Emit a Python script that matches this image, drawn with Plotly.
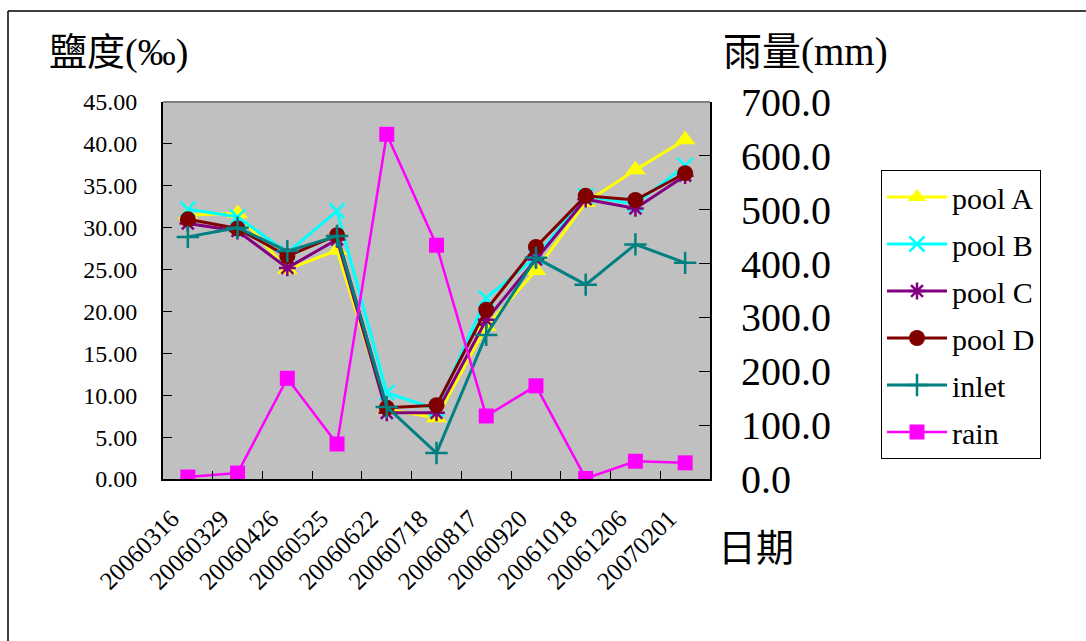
import plotly.graph_objects as go

dates = ["20060316", "20060329", "20060426", "20060525", "20060622", "20060718",
         "20060817", "20060920", "20061018", "20061206", "20070201"]
pool_a = [31.5, 31.7, 25.0, 27.3, 8.3, 7.3, 18.2, 24.9, 33.0, 36.9, 40.5]
pool_b = [32.2, 31.3, 27.0, 32.0, 10.3, 8.3, 21.6, 26.5, 33.8, 32.8, 37.4]
pool_c = [30.5, 29.6, 25.2, 28.6, 7.9, 7.9, 19.0, 26.2, 33.4, 32.3, 36.2]
pool_d = [31.0, 29.9, 26.6, 29.1, 8.5, 8.8, 20.2, 27.7, 33.8, 33.3, 36.5]
inlet = [28.9, 30.0, 27.2, 29.0, 8.6, 3.1, 17.2, 26.4, 23.2, 28.0, 25.8]
rain = [3.7, 11.0, 187.0, 65.0, 640.0, 434.0, 117.0, 173.0, 1.0, 33.0, 30.0]

sal_ticks = [0, 5, 10, 15, 20, 25, 30, 35, 40, 45]
rain_ticks = [0, 100, 200, 300, 400, 500, 600, 700]

SERIF = "Liberation Serif"
CJK = "Liberation Serif, Noto Sans CJK TC"

fig = go.Figure()

series = [
    ("pool A", pool_a, "#FFFF00", dict(symbol="triangle-up", size=18)),
    ("pool B", pool_b, "#00FFFF", dict(symbol="x-thin", size=15, line=dict(width=2.5, color="#00FFFF"))),
    ("pool C", pool_c, "#800080", dict(symbol="asterisk", size=14, line=dict(width=2.5, color="#800080"))),
    ("pool D", pool_d, "#800000", dict(symbol="circle", size=16)),
    ("inlet", inlet, "#008080", dict(symbol="cross-thin", size=16, line=dict(width=2.5, color="#008080"))),
]
for name, vals, color, mk in series:
    mk = dict(mk)
    mk["color"] = color
    fig.add_trace(go.Scatter(
        x=dates, y=vals, name=name, mode="lines+markers",
        line=dict(color=color, width=3), marker=mk,
        legendgroup=name, yaxis="y",
    ))

fig.add_trace(go.Scatter(
    x=dates, y=rain, name="rain", mode="lines+markers",
    line=dict(color="#FF00FF", width=2.5),
    marker=dict(symbol="square", size=15, color="#FF00FF"),
    legendgroup="rain", yaxis="y2",
))

L, R, T, B = 163, 710, 102, 479
W, H = 1086, 641
pw, ph = R - L, B - T

def px(x):
    return (x - L) / pw

def py(y):
    return (B - y) / ph

fig.update_layout(
    width=W, height=H,
    margin=dict(l=L, r=W - R, t=T, b=H - B, pad=0),
    paper_bgcolor="white",
    plot_bgcolor="#C0C0C0",
    showlegend=True,
    xaxis=dict(
        type="category", tickmode="array", tickvals=dates, ticktext=dates,
        tickson="boundaries", ticks="inside", ticklen=8, tickcolor="black", tickwidth=1,
        showline=True, linecolor="black", linewidth=2,
        showgrid=False, zeroline=False,
        tickangle=-45, tickfont=dict(family=SERIF, size=25, color="black"),
        ticklabelstandoff=13, ticklabelshift=-16,
        range=[-0.5, 10.5],
    ),
    yaxis=dict(
        range=[0, 45], tickmode="array", tickvals=sal_ticks,
        ticktext=[f"{v:.2f}" for v in sal_ticks],
        ticks="inside", ticklen=9, tickcolor="black", tickwidth=1,
        showline=True, linecolor="black", linewidth=2,
        showgrid=False, zeroline=False,
        tickfont=dict(family=SERIF, size=24, color="black"),
        ticklabelstandoff=19,
    ),
    yaxis2=dict(
        range=[0, 700], overlaying="y", side="right",
        tickmode="array", tickvals=rain_ticks,
        ticktext=[f"{v:.1f}" for v in rain_ticks],
        ticks="inside", ticklen=11, tickcolor="black", tickwidth=1,
        showline=True, linecolor="black", linewidth=2,
        showgrid=False, zeroline=False,
        tickfont=dict(family=SERIF, size=40, color="black"),
        ticklabelstandoff=21,
    ),
    legend=dict(
        x=px(881), y=py(170), xanchor="left", yanchor="top",
        bordercolor="black", borderwidth=1, bgcolor="white",
        font=dict(family=SERIF, size=30, color="black"),
        itemwidth=60, tracegroupgap=5, traceorder="grouped",
    ),
    annotations=[
        dict(text="鹽度(‰)", x=px(47), y=py(52), xref="paper", yref="paper",
             xanchor="left", yanchor="middle", showarrow=False,
             font=dict(family=CJK, size=38, color="black")),
        dict(text="雨量(mm)", x=px(721), y=py(52), xref="paper", yref="paper",
             xanchor="left", yanchor="middle", showarrow=False,
             font=dict(family=CJK, size=39, color="black")),
        dict(text="日期", x=px(716), y=py(548), xref="paper", yref="paper",
             xanchor="left", yanchor="middle", showarrow=False,
             font=dict(family=CJK, size=38, color="black")),
    ],
    shapes=[
        dict(type="line", xref="paper", yref="paper", x0=px(8), x1=px(1095),
             y0=py(11), y1=py(11), line=dict(color="black", width=1.5)),
        dict(type="line", xref="paper", yref="paper", x0=px(8), x1=px(8),
             y0=py(11), y1=py(650), line=dict(color="black", width=1.5)),
        dict(type="line", xref="paper", yref="paper", x0=0, x1=1,
             y0=1, y1=1, line=dict(color="#808080", width=2)),
    ],
)

fig.write_html("out.html")
